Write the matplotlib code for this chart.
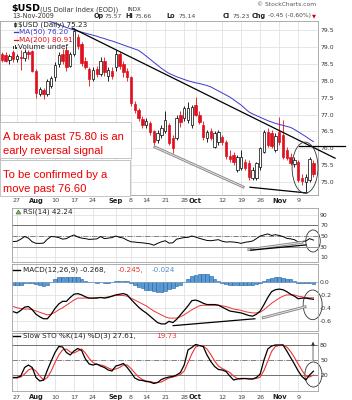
import pandas as pd
import matplotlib
matplotlib.use("Agg")
import matplotlib.pyplot as plt
from matplotlib.patches import Rectangle, Ellipse
from matplotlib.transforms import blended_transform_factory

# trading days on the chart, Jul 21 to Nov 13 2009 (Labor Day closed)
dates = [d for d in pd.bdate_range("2009-07-21", "2009-11-13") if d != pd.Timestamp("2009-09-07")]

opens = [78.78, 78.76, 78.62, 78.85, 78.65, 78.70, 78.68, 78.85, 78.88, 78.30,
         77.62, 77.72, 77.62, 77.85, 78.10, 78.50, 78.80, 78.90, 78.45, 78.80,
         79.30, 79.08, 78.60, 78.35, 78.05, 78.35, 78.20, 78.60, 78.15, 78.30,
         78.40, 78.78, 78.50, 78.30, 78.10, 77.30, 77.15, 76.88, 76.70, 76.75,
         76.52, 76.25, 76.40, 76.50, 76.70, 76.30, 76.30, 77.00, 76.90, 76.85,
         76.70, 77.28, 77.00, 76.70, 76.30, 76.50, 76.05, 76.20, 76.33, 76.20,
         75.78, 75.80, 75.36, 75.42, 75.60, 75.56, 75.12, 75.12, 75.45, 75.89,
         76.48, 76.45, 75.95, 76.48, 76.39, 75.95, 75.74, 75.55, 75.59, 75.12,
         75.00, 75.06, 75.57]
highs = [78.85, 78.85, 78.80, 78.92, 78.80, 78.92, 78.95, 78.92, 78.92, 78.35,
         77.82, 77.78, 78.05, 78.15, 78.55, 78.85, 78.95, 79.00, 78.85, 79.56,
         79.38, 79.15, 78.70, 78.42, 78.40, 78.45, 78.70, 78.70, 78.40, 78.40,
         78.90, 78.85, 78.60, 78.38, 78.15, 77.40, 77.20, 76.95, 76.90, 76.80,
         76.55, 76.55, 76.70, 77.12, 76.75, 76.40, 77.00, 77.10, 77.25, 77.38,
         77.28, 77.52, 77.10, 76.80, 76.55, 76.60, 76.50, 76.55, 76.40, 76.25,
         75.95, 75.90, 75.80, 75.95, 75.70, 75.65, 75.45, 75.60, 76.05, 76.55,
         76.60, 76.55, 76.45, 76.93, 76.84, 76.05, 75.85, 75.75, 75.65, 75.25,
         75.25, 75.75, 75.66]
lows = [78.55, 78.55, 78.50, 78.55, 78.55, 78.32, 78.60, 78.65, 78.25, 77.50,
        77.55, 77.45, 77.55, 77.80, 78.00, 78.40, 78.50, 78.30, 78.40, 78.72,
        78.95, 78.45, 78.35, 77.85, 78.00, 78.10, 78.15, 78.15, 78.00, 78.05,
        78.30, 78.35, 78.10, 78.00, 77.25, 77.05, 76.80, 76.60, 76.60, 76.40,
        76.10, 76.15, 76.30, 76.45, 76.10, 75.87, 76.25, 76.62, 76.82, 76.75,
        76.60, 76.95, 76.72, 76.25, 76.20, 76.25, 76.00, 76.10, 76.10, 75.70,
        75.60, 75.50, 75.30, 75.35, 75.35, 75.05, 75.05, 75.05, 75.35, 75.85,
        76.05, 76.00, 75.90, 76.10, 75.70, 75.65, 75.50, 75.45, 75.00, 74.91,
        74.72, 75.00, 75.14]
closes = [78.62, 78.60, 78.72, 78.65, 78.72, 78.68, 78.85, 78.78, 78.30, 77.64,
          77.75, 77.60, 78.00, 78.08, 78.48, 78.75, 78.60, 78.42, 78.80, 79.48,
          79.02, 78.52, 78.42, 78.05, 78.32, 78.20, 78.60, 78.25, 78.32, 78.15,
          78.80, 78.45, 78.25, 78.12, 77.33, 77.15, 76.90, 76.68, 76.82, 76.48,
          76.20, 76.45, 76.60, 76.85, 76.16, 76.00, 76.90, 76.78, 77.20, 77.20,
          77.22, 76.99, 76.78, 76.33, 76.48, 76.30, 76.45, 76.48, 76.19, 75.78,
          75.70, 75.59, 75.74, 75.74, 75.42, 75.15, 75.36, 75.56, 76.01, 76.48,
          76.10, 76.08, 76.38, 76.19, 75.74, 75.71, 75.56, 75.65, 75.06, 75.02,
          75.15, 75.68, 75.23]
ma50 = [80.15, 80.12, 80.09, 80.06, 80.03, 80.00, 79.97, 79.94, 79.91, 79.88,
        79.85, 79.82, 79.78, 79.74, 79.70, 79.66, 79.62, 79.58, 79.54, 79.50,
        79.47, 79.44, 79.41, 79.38, 79.35, 79.32, 79.28, 79.25, 79.21, 79.18,
        79.14, 79.10, 79.06, 79.02, 78.98, 78.94, 78.90, 78.82, 78.73, 78.64,
        78.55, 78.46, 78.37, 78.29, 78.22, 78.17, 78.12, 78.08, 78.04, 78.00,
        77.97, 77.94, 77.92, 77.89, 77.86, 77.82, 77.76, 77.70, 77.64, 77.58,
        77.52, 77.44, 77.36, 77.28, 77.18, 77.08, 77.02, 76.97, 76.92, 76.87,
        76.82, 76.78, 76.74, 76.71, 76.68, 76.65, 76.62, 76.56, 76.49, 76.42,
        76.35, 76.27, 76.20]

# indicator panels start on Jul 24 (index 3)
ind_start = 3
rsi = [39.5, 40, 44, 49, 46, 39, 36, 36, 36.5, 44, 49, 48.5, 47, 44, 45, 49, 52, 48, 46, 45,
       43.5, 44, 44.5, 49, 45, 46, 47, 50, 47.5, 46, 42, 39, 38.5, 37.5, 37, 36, 35, 32.5, 36, 39,
       41, 36.5, 37, 44, 45.5, 47, 47.5, 50, 48, 45.5, 43.5, 41.5, 41, 42, 43, 40, 38.5, 39, 38.5, 37.5,
       36, 38, 39, 40.5, 45, 50, 52, 54, 51, 52.5, 51, 49, 45.5, 44.5, 43, 38.5, 39.5, 40.5, 45, 42.24]
macd = [-0.46, -0.48, -0.44, -0.39, -0.38, -0.43, -0.50, -0.54, -0.57, -0.57,
        -0.50, -0.41, -0.34, -0.30, -0.30, -0.24, -0.19, -0.18, -0.20, -0.23,
        -0.25, -0.25, -0.25, -0.24, -0.25, -0.24, -0.22, -0.20, -0.19, -0.18,
        -0.20, -0.27, -0.33, -0.39, -0.44, -0.48, -0.53, -0.58, -0.63, -0.65,
        -0.65, -0.61, -0.63, -0.58, -0.51, -0.44, -0.37, -0.29, -0.28, -0.30,
        -0.33, -0.35, -0.35, -0.35, -0.36, -0.39, -0.42, -0.45, -0.46, -0.47,
        -0.48, -0.50, -0.52, -0.53, -0.50, -0.45, -0.35, -0.24, -0.15, -0.12,
        -0.11, -0.12, -0.15, -0.19, -0.22, -0.26, -0.25, -0.25, -0.26, -0.268]
signal = [-0.38, -0.40, -0.41, -0.42, -0.42, -0.43, -0.45, -0.47, -0.49, -0.51,
          -0.50, -0.47, -0.43, -0.40, -0.36, -0.32, -0.28, -0.25, -0.25, -0.25,
          -0.25, -0.25, -0.24, -0.24, -0.24, -0.23, -0.22, -0.21, -0.21, -0.21,
          -0.22, -0.25, -0.28, -0.31, -0.34, -0.37, -0.41, -0.45, -0.48, -0.51,
          -0.54, -0.56, -0.56, -0.56, -0.54, -0.51, -0.47, -0.43, -0.40, -0.37,
          -0.36, -0.36, -0.36, -0.36, -0.36, -0.37, -0.38, -0.40, -0.42, -0.43,
          -0.44, -0.46, -0.47, -0.48, -0.48, -0.47, -0.43, -0.38, -0.33, -0.29,
          -0.25, -0.22, -0.20, -0.20, -0.20, -0.22, -0.23, -0.24, -0.245, -0.245]
hist = [-0.05, -0.05, -0.04, -0.02, -0.01, -0.01, -0.03, -0.05, -0.06, -0.05,
        0.0, 0.05, 0.07, 0.08, 0.08, 0.08, 0.08, 0.07, 0.05, 0.02,
        0.0, 0.0, -0.01, 0.0, -0.01, -0.01, 0.0, 0.01, 0.02, 0.02,
        0.02, -0.02, -0.05, -0.08, -0.10, -0.12, -0.13, -0.14, -0.15, -0.15,
        -0.14, -0.11, -0.09, -0.06, -0.04, 0.0, 0.05, 0.09, 0.11, 0.12,
        0.13, 0.12, 0.10, 0.05, 0.01, -0.02, -0.03, -0.04, -0.04, -0.04,
        -0.04, -0.04, -0.05, -0.05, -0.03, -0.01, 0.02, 0.05, 0.06, 0.07,
        0.07, 0.06, 0.05, 0.04, 0.02, -0.01, -0.02, -0.02, -0.02, -0.024]
sto_k = [15, 15, 18, 35, 40, 35, 15, 8, 10, 30, 48, 65, 77, 76, 65, 60, 68, 73, 69, 52,
         42, 40, 42, 38, 35, 30, 28, 38, 40, 43, 35, 25, 14, 10, 9, 7, 6, 3, 5, 11,
         14, 16, 17, 20, 25, 40, 70, 75, 81, 79, 77, 60, 47, 37, 31, 30, 27, 18, 10, 12,
         13, 13, 12, 12, 15, 22, 50, 72, 78, 80, 80, 80, 68, 55, 42, 28, 17, 10, 20, 27.61]
sto_d = [14, 14, 16, 22, 30, 33, 28, 18, 10, 15, 28, 45, 60, 70, 72, 66, 64, 68, 72, 64,
         53, 45, 41, 40, 38, 34, 31, 32, 35, 40, 40, 33, 24, 16, 11, 8, 7, 5, 5, 6,
         10, 14, 16, 18, 21, 28, 45, 62, 76, 79, 78, 72, 61, 48, 38, 33, 29, 25, 18, 13,
         12, 13, 13, 12, 13, 16, 29, 48, 67, 77, 79, 80, 76, 67, 55, 42, 29, 18, 16, 19.73]

tick_dates = ["2009-07-27", "2009-08-03", "2009-08-10", "2009-08-17", "2009-08-24",
              "2009-09-01", "2009-09-08", "2009-09-14", "2009-09-21", "2009-09-28",
              "2009-10-01", "2009-10-12", "2009-10-19", "2009-10-26", "2009-11-02",
              "2009-11-09"]
tick_text = ["27", "Aug", "10", "17", "24", "Sep", "8", "14", "21", "28",
             "Oct", "12", "19", "26", "Nov", "9"]

RED = "#e0101e"
BLUE = "#3a3acc"
W, H = 352, 400
SMALL = "DejaVu Sans"

idx = list(range(len(dates)))
ind_idx = list(range(ind_start, len(dates)))
tick_idx = [dates.index(pd.Timestamp(d)) for d in tick_dates]

fig = plt.figure(figsize=(W / 100, H / 100), dpi=100)


def px_axes(x0, y0, x1, y1):
    # axes placed by pixel box (y from top); one trading day = 3.8 px
    ax = fig.add_axes([x0 / W, 1 - y1 / H, (x1 - x0) / W, (y1 - y0) / H])
    ax.set_xlim((x0 - 1.8) / 3.8, (x1 - 1.8) / 3.8)
    return ax


def style(ax, yticks, ylabels):
    for s in ax.spines.values():
        s.set_color("#a0a0a0")
        s.set_linewidth(0.6)
    ax.set_xticks(tick_idx)
    ax.set_xticklabels([])
    ax.tick_params(axis="x", length=0)
    ax.yaxis.tick_right()
    ax.set_yticks(yticks)
    ax.set_yticklabels(ylabels, fontsize=4.4, color="#333333", family=SMALL)
    ax.tick_params(axis="y", length=0, pad=1.5)
    ax.grid(True, color="#dcdcdc", lw=0.5)
    ax.set_axisbelow(True)


# ---- price panel ----
axp = px_axes(0, 21, 318, 195)
axp.set_ylim(74.62, 79.77)
pt = [75.0 + 0.5 * k for k in range(10)]
style(axp, pt, ["%.1f" % v for v in pt])

up = [c >= o for o, c in zip(opens, closes)]
wick_cols = ["black" if u else RED for u in up]
axp.vlines(idx, lows, highs, colors=wick_cols, lw=0.6, zorder=2)
body_low = [min(o, c) for o, c in zip(opens, closes)]
body_h = [max(abs(c - o), 0.012) for o, c in zip(opens, closes)]
axp.bar(idx, body_h, bottom=body_low, width=0.64,
        color=["white" if u else RED for u in up],
        edgecolor=["black" if u else RED for u in up], lw=0.5, zorder=3)
axp.plot(idx, ma50, color=BLUE, lw=0.7, zorder=4)

# hand drawn lines
axp.plot([18.5, 87.7], [79.56, 75.71], color="black", lw=0.9, clip_on=False, zorder=5)
axp.plot([78.3, 90.3], [76.06, 76.06], color="black", lw=0.9, clip_on=False, zorder=5)
axp.plot([40.3, 63.5], [76.04, 74.86], color="#888888", lw=2.0, zorder=5)
axp.plot([40.3, 63.5], [76.04, 74.86], color="#e4e4e4", lw=0.7, zorder=5)
axp.plot([65.3, 80.3], [74.85, 74.68], color="black", lw=0.9, zorder=5)
axp.add_patch(Ellipse((79.8, 75.43), 6.8, 1.51, fill=False, ec="#333333", lw=0.6,
                      clip_on=False, zorder=6))

# ---- RSI ----
axr = px_axes(12, 208, 318, 262)
axr.set_ylim(0.5, 103.3)
style(axr, [10, 30, 50, 70, 90], ["10", "30", "50", "70", "90"])
axr.axhline(70, color="#707070", lw=0.7)
axr.axhline(30, color="#909090", lw=0.7)
axr.axhline(50, color="#707070", lw=0.6, ls="-.")
axr.plot(ind_idx, rsi, color="black", lw=0.7)
axr.plot([65.0, 79.0], [24, 38], color="#888888", lw=2.0)
axr.plot([65.0, 79.0], [24, 38], color="#e4e4e4", lw=0.7)
axr.plot([65.5, 80.0], [23, 33], color="black", lw=0.9)
axr.add_patch(Ellipse((81.9, 40.5), 3.8, 42, fill=False, ec="#333333", lw=0.6, clip_on=False))

# ---- MACD ----
axm = px_axes(12, 264, 318, 331)
axm.set_ylim(-0.76, 0.279)
style(axm, [0.0, -0.2, -0.4, -0.6], ["0.0", "-0.2", "-0.4", "-0.6"])
axm.bar(ind_idx, hist, width=0.9, color="#5b9bd5", edgecolor="#1f5f9f", lw=0.4)
axm.axhline(0, color="#8aa8c8", lw=0.5)
axm.plot(ind_idx, signal, color="#ee3333", lw=0.7)
axm.plot(ind_idx, macd, color="black", lw=0.9)
axm.plot([45.1, 66.6], [-0.677, -0.57], color="black", lw=0.9)
axm.plot([68.8, 79.8], [-0.554, -0.385], color="#888888", lw=2.0)
axm.plot([68.8, 79.8], [-0.554, -0.385], color="#e4e4e4", lw=0.7)
axm.add_patch(Ellipse((81.8, -0.354), 5.0, 0.46, fill=False, ec="#333333", lw=0.6, clip_on=False))

# ---- Slow stochastic ----
axs = px_axes(12, 333, 318, 391)
axs.set_ylim(-12, 104)
style(axs, [20, 50, 80], ["20", "50", "80"])
axs.axhline(80, color="#707070", lw=0.7)
axs.axhline(20, color="#707070", lw=0.7)
axs.axhline(50, color="#707070", lw=0.6, ls="-.")
axs.plot(ind_idx, sto_d, color="#ee3333", lw=0.8)
axs.plot(ind_idx, sto_k, color="black", lw=0.9)
axs.add_patch(Ellipse((82.0, 21), 4.5, 50, fill=False, ec="#333333", lw=0.6, clip_on=False))
axs.annotate("", xy=(81.9, 92), xytext=(81.9, 44),
             arrowprops=dict(arrowstyle="-|>", color="#333333", lw=0.5, mutation_scale=5),
             annotation_clip=False)

# date rows
for ax, ypos in [(axp, -0.032), (axs, -0.105)]:
    tr = blended_transform_factory(ax.transData, ax.transAxes)
    for j, t in zip(tick_idx, tick_text):
        month = not t.isdigit()
        ax.text(j, ypos, t, transform=tr, ha="center", va="center", family=SMALL,
                fontsize=4.9 if month else 4.6, fontweight="bold" if month else "normal",
                color="#222222" if month else "#444444", clip_on=False)

# ---- overlay for header, legends, notes ----
ov = fig.add_axes([0, 0, 1, 1], zorder=20)
ov.set_xlim(0, W)
ov.set_ylim(H, 0)
ov.axis("off")

ov.text(11, 9, "$USD", fontsize=6.8, fontweight="bold", family=SMALL, va="center")
ov.text(40, 9.5, "(US Dollar Index (EOD))", fontsize=4.8, family=SMALL, va="center", color="#333333")
ov.text(128, 9.5, "INDX", fontsize=4.0, family=SMALL, va="center", color="#333333")
ov.text(316, 5, "\u00a9 StockCharts.com", fontsize=4.3, family=SMALL, va="center", ha="right", color="#555555")
ov.text(12, 16, "13-Nov-2009", fontsize=4.7, family=SMALL, va="center", color="#333333")
head = [("Op", 94, True), ("75.57", 105, False), ("Hi", 125, True), ("75.66", 135, False),
        ("Lo", 166, True), ("75.14", 179, False), ("Cl", 223, True), ("75.23", 233, False),
        ("Chg", 252, True), ("-0.45 (-0.60%)", 268, False)]
for s, x, b in head:
    ov.text(x, 16, s, fontsize=4.7 if b else 4.3, fontweight="bold" if b else "normal",
            family=SMALL, va="center", color="#222222" if b else "#444444")
ov.text(312, 16, "\u25bc", fontsize=3.8, family=SMALL, va="center", color="#cc0000")

# price legend
ov.vlines([14.5], 22, 27, color="black", lw=0.5)
ov.add_patch(Rectangle((13.5, 23), 2, 2.5, fc="white", ec="black", lw=0.4))
ov.text(18, 24.5, "$USD (Daily) 75.23", fontsize=5.2, family=SMALL, va="center", color="#222222")
ov.plot([14, 18], [32, 32], color=BLUE, lw=0.9)
ov.text(19, 32, "MA(50) 76.20", fontsize=5.2, family=SMALL, va="center", color=BLUE)
ov.plot([14, 18], [39.5, 39.5], color=RED, lw=0.9)
ov.text(19, 39.5, "MA(200) 80.91", fontsize=5.2, family=SMALL, va="center", color=RED)
for k, hgt in enumerate([3, 4.5, 2.5]):
    ov.add_patch(Rectangle((13 + k * 1.6, 49 - hgt), 1.2, hgt, fc="#333333", ec="none"))
ov.text(18.5, 47, "Volume undef", fontsize=5.2, family=SMALL, va="center", color="#222222")

# indicator legends
ov.add_patch(plt.Polygon([[16, 214], [18.5, 210], [21, 214]], fc="#77bb55", ec="#336633", lw=0.4))
ov.text(23, 212, "RSI(14) 42.24", fontsize=5.2, family=SMALL, va="center", color="#222222")
ov.plot([13, 20], [270, 270], color="black", lw=1.0)
ov.text(23, 270, "MACD(12,26,9) -0.268,", fontsize=5.2, family=SMALL, va="center", color="#222222")
ov.text(118, 270, "-0.245,", fontsize=5.2, family=SMALL, va="center", color="#ee3333")
ov.text(152, 270, "-0.024", fontsize=5.2, family=SMALL, va="center", color="#4a8fd0")
ov.plot([13, 20], [335.5, 335.5], color="black", lw=1.0)
ov.text(23, 335.5, "Slow STO %K(14) %D(3) 27.61,", fontsize=5.2, family=SMALL, va="center", color="#222222")
ov.text(156, 335.5, "19.73", fontsize=5.2, family=SMALL, va="center", color="#ee3333")

# note boxes
for (y0, hgt, w, lines) in [(122, 36, 131, ["A break past 75.80 is an", "early reversal signal"]),
                            (160, 36, 130, ["To be confirmed by a", "move past 76.60"])]:
    ov.add_patch(Rectangle((1, y0 + 1), w, hgt, fc="#d8d8d8", ec="none"))
    ov.add_patch(Rectangle((0, y0), w, hgt, fc="white", ec="#c4c4c4", lw=0.7))
    for k, s in enumerate(lines):
        ov.text(3, y0 + 15 + k * 14, s, fontsize=8.1, family="Liberation Sans",
                color="#ee0000", va="center")

fig.savefig("out.png", dpi=100)
